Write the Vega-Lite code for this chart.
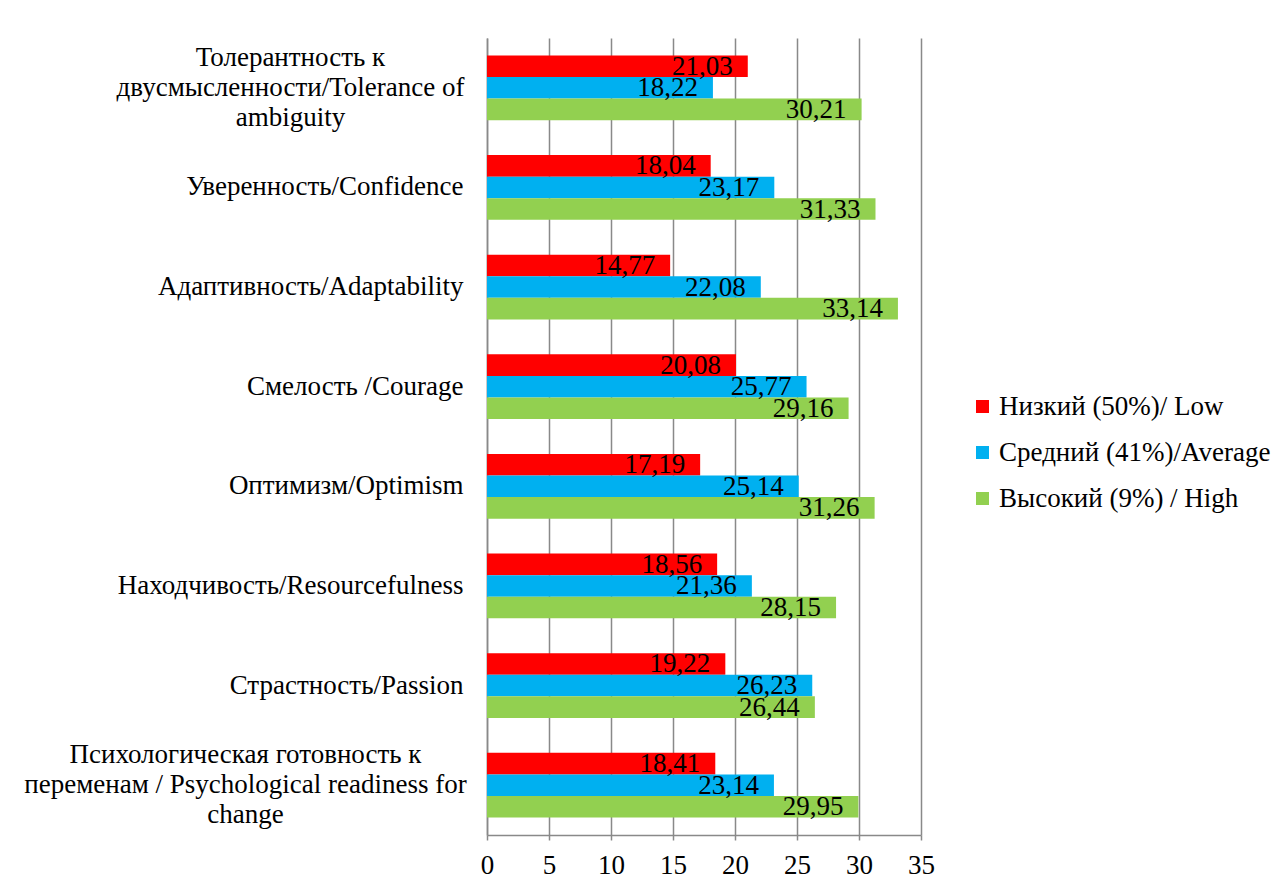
{
  "$schema": "https://vega.github.io/schema/vega-lite/v6.json",
  "width": 434,
  "height": 797,
  "autosize": {"type": "none"},
  "padding": {"left": 487, "top": 38, "right": 360, "bottom": 55},
  "background": "white",
  "config": {"font": "Liberation Serif", "view": {"stroke": null}},
  "data": {"values": [
    {"category": "Толерантность к двусмысленности/Tolerance of ambiguity", "series": "Низкий (50%)/ Low", "value": 21.03, "label": "21,03"},
    {"category": "Толерантность к двусмысленности/Tolerance of ambiguity", "series": "Средний (41%)/Average", "value": 18.22, "label": "18,22"},
    {"category": "Толерантность к двусмысленности/Tolerance of ambiguity", "series": "Высокий (9%) / High", "value": 30.21, "label": "30,21"},
    {"category": "Уверенность/Confidence", "series": "Низкий (50%)/ Low", "value": 18.04, "label": "18,04"},
    {"category": "Уверенность/Confidence", "series": "Средний (41%)/Average", "value": 23.17, "label": "23,17"},
    {"category": "Уверенность/Confidence", "series": "Высокий (9%) / High", "value": 31.33, "label": "31,33"},
    {"category": "Адаптивность/Adaptability", "series": "Низкий (50%)/ Low", "value": 14.77, "label": "14,77"},
    {"category": "Адаптивность/Adaptability", "series": "Средний (41%)/Average", "value": 22.08, "label": "22,08"},
    {"category": "Адаптивность/Adaptability", "series": "Высокий (9%) / High", "value": 33.14, "label": "33,14"},
    {"category": "Смелость /Courage", "series": "Низкий (50%)/ Low", "value": 20.08, "label": "20,08"},
    {"category": "Смелость /Courage", "series": "Средний (41%)/Average", "value": 25.77, "label": "25,77"},
    {"category": "Смелость /Courage", "series": "Высокий (9%) / High", "value": 29.16, "label": "29,16"},
    {"category": "Оптимизм/Optimism", "series": "Низкий (50%)/ Low", "value": 17.19, "label": "17,19"},
    {"category": "Оптимизм/Optimism", "series": "Средний (41%)/Average", "value": 25.14, "label": "25,14"},
    {"category": "Оптимизм/Optimism", "series": "Высокий (9%) / High", "value": 31.26, "label": "31,26"},
    {"category": "Находчивость/Resourcefulness", "series": "Низкий (50%)/ Low", "value": 18.56, "label": "18,56"},
    {"category": "Находчивость/Resourcefulness", "series": "Средний (41%)/Average", "value": 21.36, "label": "21,36"},
    {"category": "Находчивость/Resourcefulness", "series": "Высокий (9%) / High", "value": 28.15, "label": "28,15"},
    {"category": "Страстность/Passion", "series": "Низкий (50%)/ Low", "value": 19.22, "label": "19,22"},
    {"category": "Страстность/Passion", "series": "Средний (41%)/Average", "value": 26.23, "label": "26,23"},
    {"category": "Страстность/Passion", "series": "Высокий (9%) / High", "value": 26.44, "label": "26,44"},
    {"category": "Психологическая готовность к переменам / Psychological readiness for change", "series": "Низкий (50%)/ Low", "value": 18.41, "label": "18,41"},
    {"category": "Психологическая готовность к переменам / Psychological readiness for change", "series": "Средний (41%)/Average", "value": 23.14, "label": "23,14"},
    {"category": "Психологическая готовность к переменам / Psychological readiness for change", "series": "Высокий (9%) / High", "value": 29.95, "label": "29,95"}
  ]},
  "encoding": {
    "y": {
      "field": "category",
      "type": "nominal",
      "sort": null,
      "scale": {"paddingInner": 0.35, "paddingOuter": 0.175},
      "axis": {
        "title": null,
        "ticks": false,
        "domainColor": "#898989",
        "domainWidth": 1.5,
        "labelFont": "Liberation Serif",
        "labelFontSize": 27,
        "labelColor": "black",
        "labelLimit": 0,
        "labelLineHeight": 30,
        "labelBaseline": "middle",
        "labelAlign": {"condition": {"test": "indexof(datum.value, 'Толерантность') == 0 || indexof(datum.value, 'Психологическая') == 0", "value": "center"}, "value": "right"},
        "labelOffset": {"condition": {"test": "indexof(datum.value, 'Толерантность') == 0 || indexof(datum.value, 'Психологическая') == 0", "value": -30}, "value": 0},
        "labelPadding": {"condition": [
          {"test": "indexof(datum.value, 'Толерантность') == 0", "value": 197},
          {"test": "indexof(datum.value, 'Психологическая') == 0", "value": 242}
        ], "value": 24},
        "labelExpr": "indexof(datum.value, 'Толерантность') == 0 ? ['Толерантность к', 'двусмысленности/Tolerance of', 'ambiguity'] : indexof(datum.value, 'Психологическая') == 0 ? ['Психологическая готовность к', 'переменам / Psychological readiness for', 'change'] : datum.value"
      }
    },
    "yOffset": {"field": "series", "type": "nominal", "sort": ["Низкий (50%)/ Low", "Средний (41%)/Average", "Высокий (9%) / High"], "scale": {"paddingInner": 0, "paddingOuter": 0}},
    "x": {
      "field": "value",
      "type": "quantitative",
      "scale": {"domain": [0, 35], "nice": false},
      "axis": {
        "title": null,
        "values": [0, 5, 10, 15, 20, 25, 30, 35],
        "grid": true,
        "gridColor": "#898989",
        "gridWidth": 1.5,
        "domainColor": "#898989",
        "domainWidth": 1.5,
        "tickColor": "#898989",
        "tickWidth": 1.5,
        "tickSize": 5,
        "labelFont": "Liberation Serif",
        "labelFontSize": 27,
        "labelColor": "black",
        "labelPadding": 12,
        "labelFlush": false,
        "labelOverlap": false
      }
    }
  },
  "layer": [
    {
      "mark": {"type": "bar"},
      "encoding": {
        "color": {
          "field": "series",
          "type": "nominal",
          "scale": {"domain": ["Низкий (50%)/ Low", "Средний (41%)/Average", "Высокий (9%) / High"], "range": ["#FF0000", "#00B0F0", "#92D050"]},
          "legend": {
            "title": null,
            "orient": "none",
            "legendX": 482,
            "legendY": 355,
            "symbolType": "square",
            "symbolSize": 169,
            "symbolStrokeWidth": 0,
            "labelFont": "Liberation Serif",
            "labelFontSize": 27,
            "labelColor": "black",
            "labelOffset": 3,
            "labelLimit": 0,
            "rowPadding": 18
          }
        }
      }
    },
    {
      "mark": {"type": "text", "align": "right", "baseline": "alphabetic", "dx": -15, "dy": 8.5, "font": "Liberation Serif", "fontSize": 27, "color": "black"},
      "encoding": {"text": {"field": "label"}}
    }
  ]
}
